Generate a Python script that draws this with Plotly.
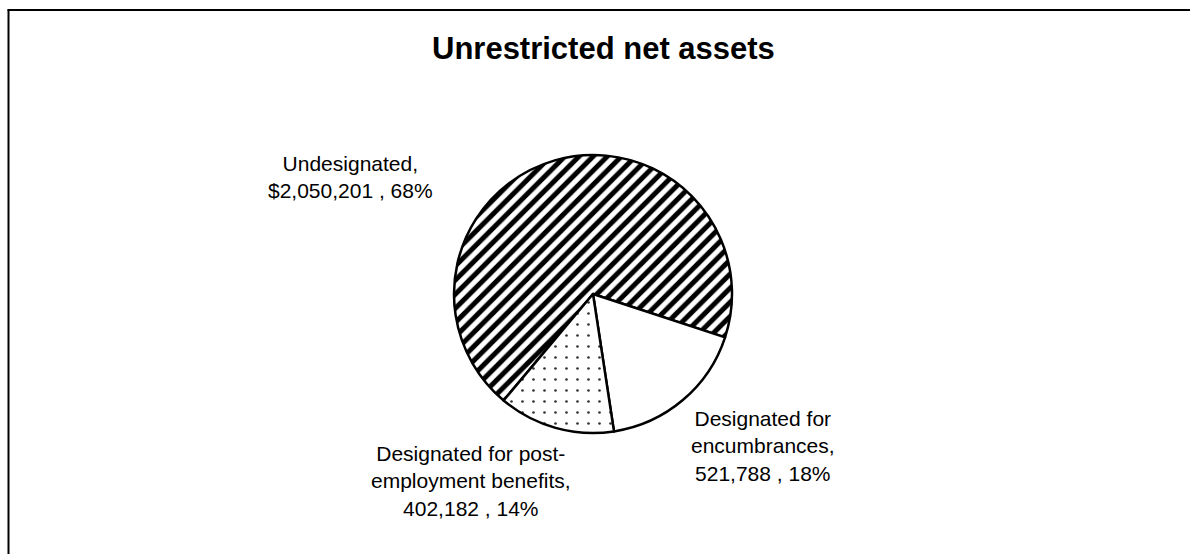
import plotly.graph_objects as go

W, H = 1190, 554

# Slice data
categories = ["Undesignated", "Designated for encumbrances", "Designated for post-employment benefits"]
values = [2050201, 521788, 402182]
pct_labels = [68, 18, 14]
value_prefix = ["$", "", ""]
name_lines = [
    ["Undesignated,"],
    ["Designated for", "encumbrances,"],
    ["Designated for post-", "employment benefits,"],
]

# Label anchor points (page pixels)
label_xy = [(350, 177), (763, 446), (471, 481)]

FONT = "Liberation Sans, Arial, sans-serif"


def px(x):
    return x / W


def py(y):
    return 1 - y / H


patterns = [
    dict(shape="/", size=10, solidity=0.5, fgcolor="black", bgcolor="white"),
    dict(shape="", fgcolor="black", bgcolor="white"),
    dict(shape=".", size=11, solidity=0.045, fgcolor="#333333", bgcolor="white"),
]

fig = go.Figure(
    go.Pie(
        labels=categories,
        values=values,
        sort=False,
        direction="clockwise",
        rotation=220,
        textinfo="none",
        hoverinfo="label+value+percent",
        showlegend=False,
        marker=dict(
            colors=["white", "white", "white"],
            line=dict(color="black", width=2.5),
            pattern=dict(
                shape=[p["shape"] for p in patterns],
                size=[p.get("size", 8) for p in patterns],
                solidity=[p.get("solidity", 0.3) for p in patterns],
                fgcolor=[p["fgcolor"] for p in patterns],
                bgcolor=[p["bgcolor"] for p in patterns],
                fillmode="replace",
            ),
        ),
        domain=dict(x=[px(454), px(732)], y=[py(433), py(155)]),
    )
)

annotations = [
    dict(
        text="<b>Unrestricted net assets</b>",
        x=px(603), y=py(48), xref="paper", yref="paper",
        xanchor="center", yanchor="middle", showarrow=False,
        font=dict(family=FONT, size=31, color="black"),
    )
]
for lines, prefix, v, p, (lx, ly) in zip(name_lines, value_prefix, values, pct_labels, label_xy):
    text = "<br>".join(lines + [f"{prefix}{v:,} , {p}%"])
    annotations.append(
        dict(
            text=text, x=px(lx), y=py(ly), xref="paper", yref="paper",
            xanchor="center", yanchor="middle", align="center", showarrow=False,
            font=dict(family=FONT, size=21, color="black"),
        )
    )

# Chart frame (left and top edges)
shapes = [
    dict(type="line", xref="paper", yref="paper", x0=px(8.5), x1=px(8.5), y0=0, y1=py(9.5),
         line=dict(color="black", width=2)),
    dict(type="line", xref="paper", yref="paper", x0=px(7.5), x1=1, y0=py(10), y1=py(10),
         line=dict(color="black", width=2)),
]

fig.update_layout(
    width=W, height=H,
    margin=dict(l=0, r=0, t=0, b=0),
    paper_bgcolor="white",
    plot_bgcolor="white",
    annotations=annotations,
    shapes=shapes,
)

fig.write_html("out.html")
